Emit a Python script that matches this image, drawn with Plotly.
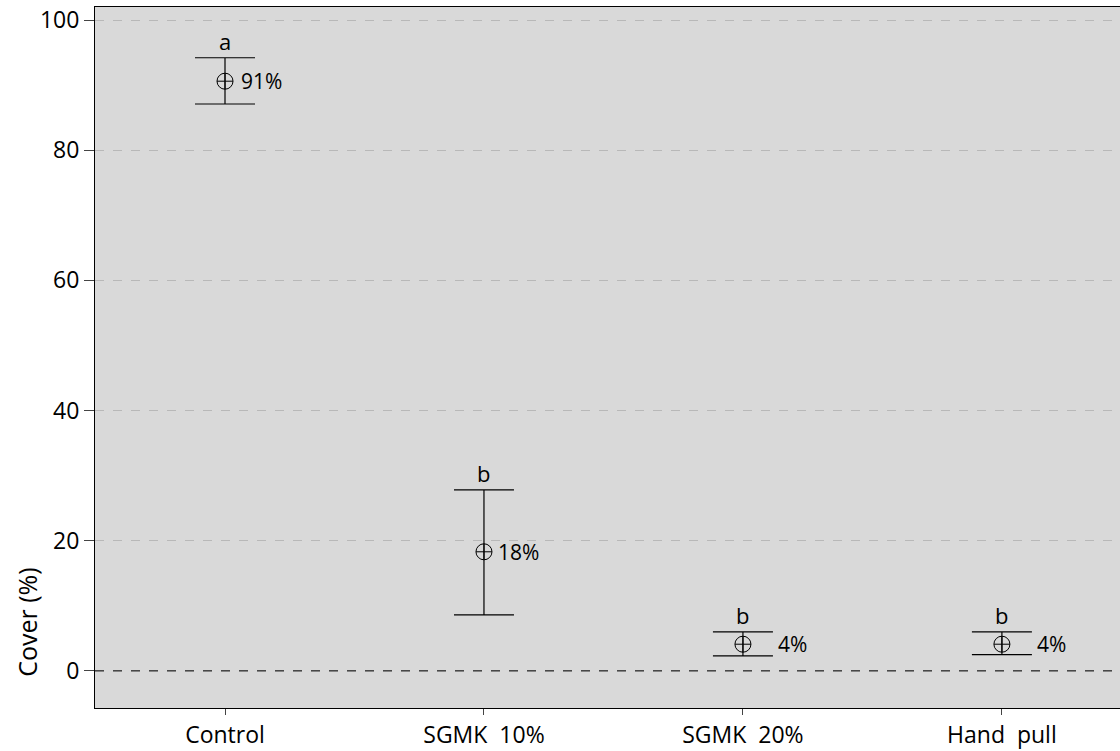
import plotly.graph_objects as go

categories = ["Control", "SGMK\u00a0\u00a010%", "SGMK\u00a0\u00a020%", "Hand\u00a0\u00a0pull"]
means = [90.6, 18.3, 4.1, 4.1]
upper = [94.2, 27.8, 6.0, 6.0]
lower = [87.1, 8.6, 2.3, 2.5]
value_labels = ["91%", "18%", "4%", "4%"]
group_letters = ["a", "b", "b", "b"]
y_ticks = [0, 20, 40, 60, 80, 100]

xpos = list(range(len(categories)))
err_plus = [u - m for u, m in zip(upper, means)]
err_minus = [m - l for m, l in zip(means, lower)]

FONT = "Open Sans"
label_xshift = [14, 12, 33, 33]

fig = go.Figure()
fig.add_trace(go.Scatter(
    x=xpos, y=means, mode="markers",
    marker=dict(symbol="circle-cross-open", size=16, color="black", line=dict(width=1, color="black")),
    error_y=dict(type="data", array=err_plus, arrayminus=err_minus, symmetric=False,
                 color="black", thickness=1.2, width=30),
    showlegend=False, hoverinfo="skip",
))

annotations = []
for x, m, lab, xs in zip(xpos, means, value_labels, label_xshift):
    annotations.append(dict(x=x, y=m, text=lab, showarrow=False, xanchor="left", yanchor="middle",
                            xshift=xs, font=dict(family=FONT, size=21, color="black")))
for x, u, lt in zip(xpos, upper, group_letters):
    annotations.append(dict(x=x, y=u, text=lt, showarrow=False, xanchor="center", yanchor="bottom",
                            yshift=0, font=dict(family=FONT, size=22, color="black")))
annotations.append(dict(x=-0.066, y=0.122, xref="paper", yref="paper", text="Cover (%)", textangle=-90,
                        showarrow=False, xanchor="center", yanchor="middle",
                        font=dict(family=FONT, size=25, color="black")))

fig.update_layout(
    width=1120, height=751,
    margin=dict(l=95, r=0, t=7, b=43, autoexpand=False),
    paper_bgcolor="white", plot_bgcolor="#d9d9d9",
    font=dict(family=FONT, size=22, color="black"),
    annotations=annotations,
    shapes=[dict(type="line", xref="paper", yref="y", x0=0, x1=1, y0=0, y1=0,
                 line=dict(color="black", width=1, dash="dash"), layer="above")],
)
fig.update_xaxes(
    range=[-0.502, 3.456], tickmode="array", tickvals=xpos, ticktext=categories, automargin=False,
    showgrid=False, zeroline=False, showline=True, linecolor="black", linewidth=1, mirror=True,
    ticks="outside", ticklen=6, tickcolor="#444", tickfont=dict(family=FONT, size=23, color="black"),
)
fig.update_yaxes(
    range=[-5.7, 102.0], tickmode="array", tickvals=y_ticks, automargin=False,
    showgrid=True, gridcolor="#b8b8b8", griddash="dash", gridwidth=1,
    zeroline=False, showline=True, linecolor="black", linewidth=1, mirror=True,
    ticks="outside", ticklen=10, tickcolor="#444", tickfont=dict(family=FONT, size=23, color="black"),
)

fig.write_html("out.html", config={"displayModeBar": False},
               post_script="document.body.style.margin='0';document.body.style.overflow='hidden';")
